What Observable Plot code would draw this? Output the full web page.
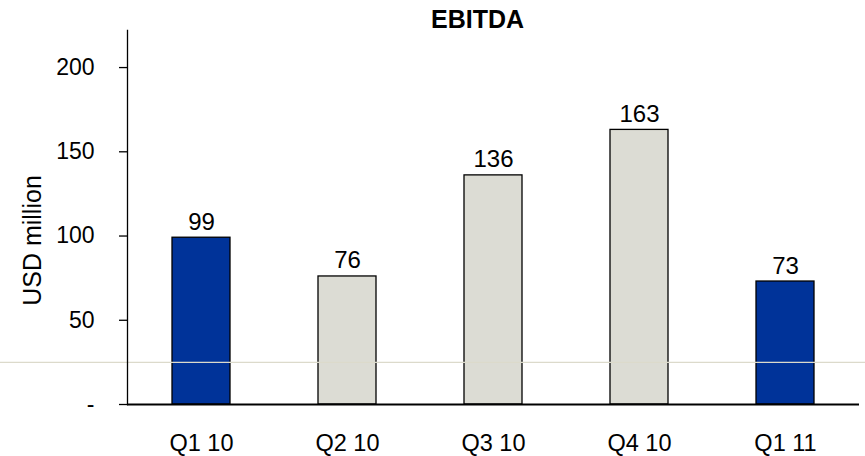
<!DOCTYPE html>
<html>
<head>
<meta charset="utf-8">
<script src="https://cdn.jsdelivr.net/npm/d3@7"></script>
<script src="https://cdn.jsdelivr.net/npm/@observablehq/plot@0.6"></script>
<style>
  html, body { margin: 0; padding: 0; background: #fff; }
  #chart svg { display: block; }
</style>
</head>
<body>
<div id="chart"></div>
<script>
const quarters = ["Q1 10", "Q2 10", "Q3 10", "Q4 10", "Q1 11"];
const ebitda = [99, 76, 136, 163, 73];
const group = ["first", "other", "other", "other", "first"];
const yTicks = [0, 50, 100, 150, 200];
const title = "EBITDA";
const yLabel = "USD million";
const stripeValue = [25];

const data = quarters.map((q, i) => ({quarter: q, value: ebitda[i], group: group[i]}));

const font = "'Liberation Sans', Arial, sans-serif";

const chart = Plot.plot({
  width: 865,
  height: 456,
  marginLeft: 127,
  marginRight: 6,
  marginTop: 30,
  marginBottom: 52,
  style: {fontFamily: font, fontSize: "23px", color: "#000", background: "#fff"},
  x: {domain: quarters, paddingInner: 0.6, paddingOuter: 0.3, label: null},
  y: {domain: [0, 222], label: null},
  color: {domain: ["first", "other"], range: ["#003399", "#dcdcd4"]},
  marks: [
    Plot.barY(data, {x: "quarter", y: "value", fill: "group", stroke: "#000", strokeWidth: 1.3}),
    Plot.ruleY(stripeValue, {stroke: "#dcdacb", strokeWidth: 1.2, insetLeft: -127, insetRight: -6}),
    Plot.text(data, {x: "quarter", y: "value", text: d => String(d.value), lineAnchor: "bottom", dy: -8, fontSize: 24, fill: "#000"}),
    Plot.ruleY([0], {stroke: "#000", strokeWidth: 2}),
    Plot.frame({anchor: "left", stroke: "#000", strokeWidth: 1.3}),
    Plot.axisY({ticks: yTicks, tickFormat: d => d === 0 ? "-" : String(d), tickSize: 8, tickPadding: 25, fontSize: 23, label: null, stroke: "#000", strokeWidth: 1.3}),
    Plot.axisX({tickSize: 0, tickPadding: 30, fontSize: 23.5, label: null}),
    Plot.text([yLabel], {frameAnchor: "left", textAnchor: "middle", rotate: -90, dx: -95, dy: 23, fontSize: 25, fill: "#000", lineAnchor: "middle"}),
    Plot.text([title], {frameAnchor: "top", textAnchor: "middle", dx: -16, dy: -3, lineAnchor: "bottom", fontSize: 25, fontWeight: "bold", fill: "#000"})
  ]
});
document.getElementById("chart").appendChild(chart);
</script>
</body>
</html>
